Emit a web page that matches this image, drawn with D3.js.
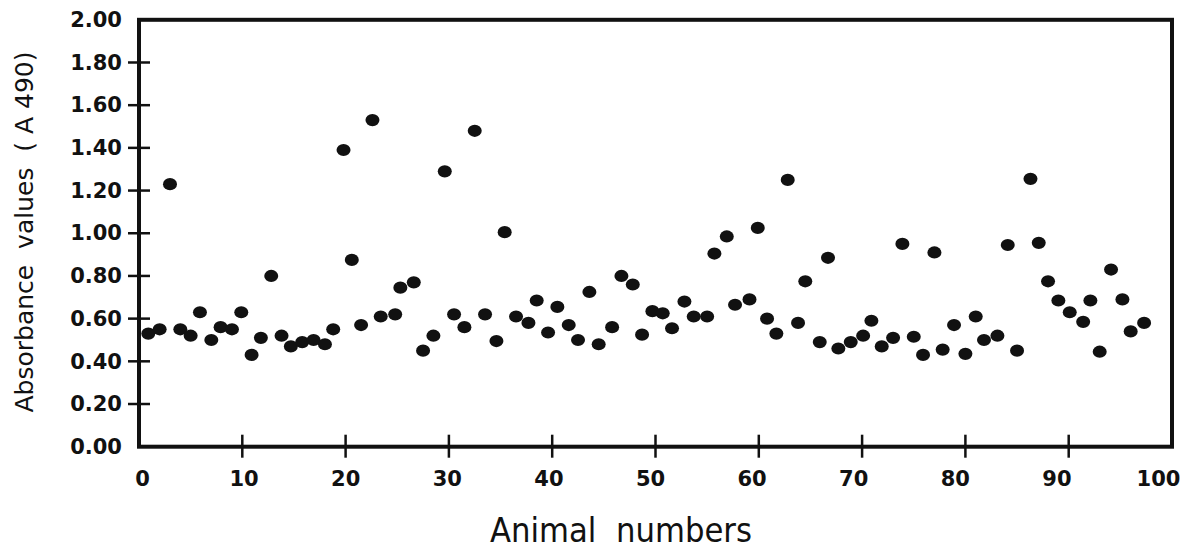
<!DOCTYPE html>
<html>
<head>
<meta charset="utf-8">
<script src="https://cdn.jsdelivr.net/npm/d3@7"></script>
<style>
  html, body { margin: 0; padding: 0; background: #fff; }
  svg { display: block; }
  text { fill: #111; }
</style>
</head>
<body>
<svg id="chart" width="1200" height="549"></svg>
<script>
// Animal position (as read along the x axis) and absorbance values (A490)
const animalX = [
  0.9, 2.0, 3.0, 4.0, 5.0, 5.9, 7.0, 7.9, 9.0, 9.9,
  10.9, 11.8, 12.8, 13.8, 14.7, 15.8, 16.9, 18.0, 18.8, 19.8,
  20.6, 21.5, 22.6, 23.4, 24.8, 25.3, 26.6, 27.5, 28.5, 29.6,
  30.5, 31.5, 32.5, 33.5, 34.6, 35.4, 36.5, 37.7, 38.5, 39.6,
  40.5, 41.6, 42.5, 43.6, 44.5, 45.8, 46.7, 47.8, 48.7, 49.7,
  50.7, 51.6, 52.8, 53.7, 55.0, 55.7, 56.9, 57.7, 59.1, 59.9,
  60.8, 61.7, 62.8, 63.8, 64.5, 65.9, 66.7, 67.7, 68.9, 70.1,
  70.9, 71.9, 73.0, 73.9, 75.0, 75.9, 77.0, 77.8, 78.9, 80.0,
  81.0, 81.8, 83.1, 84.1, 85.0, 86.3, 87.1, 88.0, 89.0, 90.1,
  91.4, 92.1, 93.0, 94.1, 95.2, 96.0, 97.3
];
const absorbance = [
  0.53, 0.55, 1.23, 0.55, 0.52, 0.63, 0.50, 0.56, 0.55, 0.63,
  0.43, 0.51, 0.80, 0.52, 0.47, 0.49, 0.50, 0.48, 0.55, 1.39,
  0.875, 0.57, 1.53, 0.61, 0.62, 0.745, 0.77, 0.45, 0.52, 1.29,
  0.62, 0.56, 1.48, 0.62, 0.495, 1.005, 0.61, 0.58, 0.685, 0.535,
  0.655, 0.57, 0.50, 0.725, 0.48, 0.56, 0.80, 0.76, 0.525, 0.635,
  0.625, 0.555, 0.68, 0.61, 0.61, 0.905, 0.985, 0.665, 0.69, 1.025,
  0.60, 0.53, 1.25, 0.58, 0.775, 0.49, 0.885, 0.46, 0.49, 0.52,
  0.59, 0.47, 0.51, 0.95, 0.515, 0.43, 0.91, 0.455, 0.57, 0.435,
  0.61, 0.50, 0.52, 0.945, 0.45, 1.255, 0.955, 0.775, 0.685, 0.63,
  0.585, 0.685, 0.445, 0.83, 0.69, 0.54, 0.58
];
const xTickValues = [0, 10, 20, 30, 40, 50, 60, 70, 80, 90, 100];
const yTickValues = [0, 0.2, 0.4, 0.6, 0.8, 1.0, 1.2, 1.4, 1.6, 1.8, 2.0];
const xTitle = "Animal  numbers";
const yTitle = "Absorbance  values  ( A 490)";

const svg = d3.select("#chart");
const plotLeft = 139, plotRight = 1172, plotTop = 19.8, plotBottom = 446.7;

const x = d3.scaleLinear().domain([0, 100]).range([plotLeft, plotRight]);
const y = d3.scaleLinear().domain([0, 2]).range([plotBottom, plotTop]);
// hand-lettered labels sit on a slightly narrower spacing than the ticks
const xLabel = d3.scaleLinear().domain([0, 100]).range([142, 1158]);

const ink = "#111";
const font = "'DejaVu Sans', sans-serif";

// frame
svg.append("rect")
  .attr("x", x(0)).attr("y", y(2))
  .attr("width", x(100) - x(0)).attr("height", y(0) - y(2))
  .attr("fill", "none").attr("stroke", ink).attr("stroke-width", 4);

// x axis labels
const gx = svg.append("g")
  .attr("transform", `translate(0,${y(0)})`)
  .call(d3.axisBottom(x).tickValues(xTickValues).tickSize(0).tickPadding(24).tickFormat(d3.format("d")));
gx.select(".domain").remove();
gx.selectAll("text")
  .attr("dx", d => xLabel(d) - x(d))
  .style("font-family", font).style("font-size", "21px").style("font-weight", "bold")
  .attr("fill", ink);

// y axis labels
const gy = svg.append("g")
  .attr("transform", `translate(${x(0)},0)`)
  .call(d3.axisLeft(y).tickValues(yTickValues).tickSize(0).tickPadding(17).tickFormat(d3.format(".2f")));
gy.select(".domain").remove();
gy.selectAll("text")
  .style("font-family", font).style("font-size", "21px").style("font-weight", "bold")
  .attr("fill", ink);

// tick marks crossing the axis lines
svg.append("g").selectAll("line")
  .data(xTickValues.filter(d => d > 0 && d < 100))
  .join("line")
  .attr("x1", d => x(d)).attr("x2", d => x(d))
  .attr("y1", y(0) - 12).attr("y2", y(0) + 11)
  .attr("stroke", ink).attr("stroke-width", 2.5);

svg.append("g").selectAll("line")
  .data(yTickValues.filter(d => d > 0 && d < 2))
  .join("line")
  .attr("x1", x(0) - 11).attr("x2", x(0) + 11)
  .attr("y1", d => y(d)).attr("y2", d => y(d))
  .attr("stroke", ink).attr("stroke-width", 2.5);

// points
const pts = animalX.map((a, i) => ({ a, v: absorbance[i] }));
svg.append("g").selectAll("ellipse")
  .data(pts)
  .join("ellipse")
  .attr("cx", d => x(d.a))
  .attr("cy", d => y(d.v))
  .attr("rx", 7).attr("ry", 6.1)
  .attr("fill", ink);

// titles
svg.append("text")
  .attr("x", 621)
  .attr("y", 542)
  .attr("text-anchor", "middle")
  .attr("textLength", 262)
  .attr("lengthAdjust", "spacingAndGlyphs")
  .style("font-family", font).style("font-size", "33px")
  .style("white-space", "pre")
  .attr("fill", ink)
  .text(xTitle);

svg.append("text")
  .attr("transform", `translate(33,232) rotate(-90)`)
  .attr("text-anchor", "middle")
  .style("font-family", font).style("font-size", "25px")
  .style("white-space", "pre")
  .attr("fill", ink)
  .text(yTitle);
</script>
</body>
</html>
